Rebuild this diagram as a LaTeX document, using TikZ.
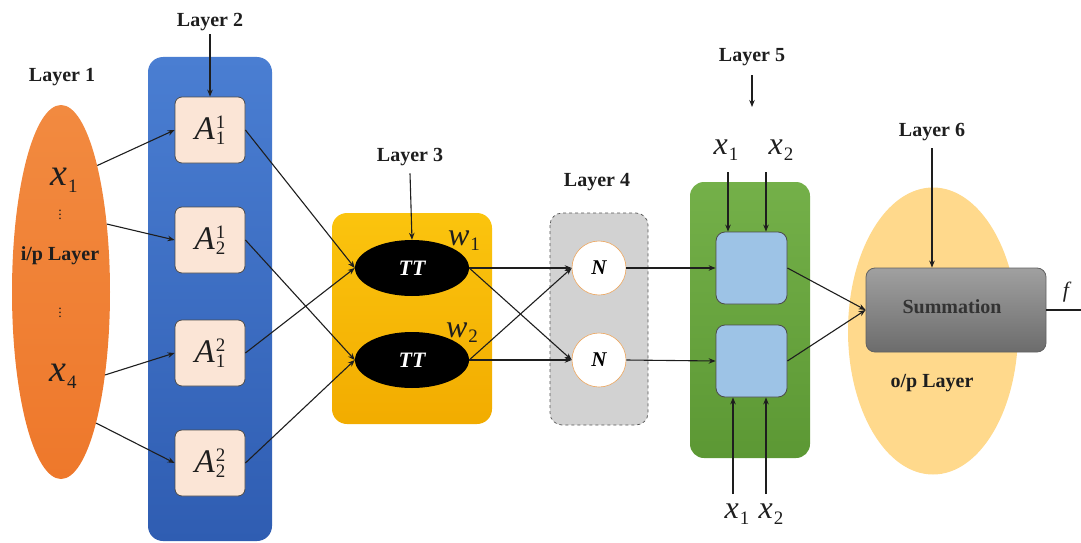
\documentclass[tikz,border=0pt]{standalone}
\usepackage{fontspec}
\setmainfont{Liberation Serif}
\usetikzlibrary{shapes.geometric,arrows.meta}

\definecolor{inorange}{HTML}{EE782B}
\definecolor{inorangeT}{HTML}{F28A40}
\definecolor{layblueT}{HTML}{4A7ED2}
\definecolor{layblueB}{HTML}{2F5DB2}
\definecolor{peach}{HTML}{FBE5D6}
\definecolor{goldT}{HTML}{FBC40E}
\definecolor{goldB}{HTML}{F2AC00}
\definecolor{normgray}{HTML}{D2D2D2}
\definecolor{greenT}{HTML}{74B049}
\definecolor{greenB}{HTML}{5C9834}
\definecolor{skyblue}{HTML}{9DC3E6}
\definecolor{outorange}{HTML}{FFD98C}
\definecolor{sumT}{HTML}{A0A0A0}
\definecolor{sumB}{HTML}{6C6C6C}
\definecolor{ink}{HTML}{1E1E1E}

% italic symbol with a stacked superscript and subscript
\newcommand\memb[3]{\textit{#1}\kern1pt\rlap{\raisebox{11pt}{\fontsize{19}{19}\selectfont #2}}\raisebox{-5pt}{\fontsize{19}{19}\selectfont #3}}
% italic symbol with a subscript
\newcommand\vsub[3]{\textit{#1}\kern1pt\raisebox{-#3}{\fontsize{19}{19}\selectfont #2}}

\begin{document}
\begin{tikzpicture}[x=1pt,y=-1pt,
  conn/.style={draw=ink, line width=1.1pt, -{Stealth[length=7pt,width=5.5pt]}},
  plain/.style={draw=ink, line width=1.1pt},
  lbl/.style={font=\bfseries\fontsize{20}{20}\selectfont, text=ink},
  bigmath/.style={font=\fontsize{32}{32}\selectfont, text=ink, inner sep=0pt},
  abox/.style={draw=ink!80, line width=0.8pt, fill=peach, rounded corners=7pt,
    minimum width=70pt, minimum height=66pt, inner sep=0pt,
    font=\fontsize{33}{33}\selectfont, text=ink},
  ttnode/.style={ellipse, fill=black, minimum width=114pt, minimum height=56pt,
    inner sep=0pt, text=white, font=\bfseries\itshape\fontsize{22}{22}\selectfont},
  nnode/.style={circle, fill=white, draw=orange!60!brown!70, line width=0.6pt,
    minimum size=54pt, inner sep=0pt, font=\bfseries\itshape\fontsize{21}{21}\selectfont},
  bbox/.style={draw=ink!80, line width=0.8pt, fill=skyblue, rounded corners=9pt,
    minimum width=71pt, minimum height=72pt, inner sep=0pt},
  vdot/.style={font=\fontsize{14}{14}\selectfont, text=ink, inner sep=0pt}
]
\useasboundingbox (0,0) rectangle (1081,543);

% ---- layer backgrounds ----
\node[ellipse, minimum width=98pt, minimum height=374pt, inner sep=0pt,
  top color=inorangeT, bottom color=inorange] (L1) at (61,292) {};
\shade[top color=layblueT, bottom color=layblueB, rounded corners=15pt]
  (148,57) rectangle (272,541);
\shade[top color=goldT, bottom color=goldB, rounded corners=15pt]
  (332,213) rectangle (492,424);
\draw[fill=normgray, draw=ink!75, dashed, line width=0.7pt, rounded corners=12pt]
  (550,213) rectangle (648,425);
\shade[top color=greenT, bottom color=greenB, rounded corners=14pt]
  (690,182) rectangle (810,458);
\node[ellipse, fill=outorange, minimum width=170pt, minimum height=287pt,
  inner sep=0pt] (L6) at (933,331) {};

% ---- layer titles ----
\node[lbl] (t1) at (62,77) {Layer 1};
\node[lbl] (t2) at (210,22) {Layer 2};
\node[lbl] (t3) at (410,157) {Layer 3};
\node[lbl] (t4) at (597,182) {Layer 4};
\node[lbl] (t5) at (752,57) {Layer 5};
\node[lbl] (t6) at (932,132) {Layer 6};

% ---- input layer contents ----
\node[bigmath, font=\fontsize{38}{38}\selectfont] (x1) at (64,180) {\vsub{x}{1}{7pt}};
\node[vdot] (d1) at (60,212) {$\vdots$};
\node[lbl] (ip) at (60,256) {i/p Layer};
\node[vdot] (d2) at (60,310) {$\vdots$};
\node[bigmath, font=\fontsize{38}{38}\selectfont] (x4) at (63,376) {\vsub{x}{4}{7pt}};

% ---- layer 2: membership nodes ----
\node[abox] (A11) at (210,130) {\memb{A}{1}{1}};
\node[abox] (A21) at (210,240) {\memb{A}{1}{2}};
\node[abox] (A12) at (210,353) {\memb{A}{2}{1}};
\node[abox] (A22) at (210,463) {\memb{A}{2}{2}};

% ---- layer 3: rule nodes ----
\node[ttnode] (T1) at (412,268) {TT};
\node[ttnode] (T2) at (412,360) {TT};
\node[bigmath] (w1) at (464,241) {\vsub{w}{1}{5pt}};
\node[bigmath] (w2) at (462,333) {\vsub{w}{2}{5pt}};

% ---- layer 4: normalisation ----
\node[nnode] (N1) at (599,268) {N};
\node[nnode] (N2) at (599,360) {N};

% ---- layer 5: consequent nodes ----
\node[bbox] (B1) at (751.5,268) {};
\node[bbox] (B2) at (751.5,361) {};
\node[bigmath] (tx1) at (726,150) {\vsub{x}{1}{6pt}};
\node[bigmath] (tx2) at (781,150) {\vsub{x}{2}{6pt}};
\node[bigmath] (bx1) at (737,514) {\vsub{x}{1}{6pt}};
\node[bigmath] (bx2) at (771,514) {\vsub{x}{2}{6pt}};
\coordinate (ta) at (728,172);
\coordinate (tb) at (766,172);
\coordinate (ba) at (733,494);
\coordinate (bb) at (766,494);

% ---- layer 6: output ----
\node[draw=ink!70, line width=0.8pt, top color=sumT, bottom color=sumB,
  rounded corners=9pt, minimum width=180pt, minimum height=84pt, inner sep=0pt]
  (S) at (956,310) {};
\node[lbl, text=black!80] (sumtxt) at (952,307) {Summation};
\node[lbl] (op) at (932,383) {o/p Layer};
\coordinate (out) at (1081,310);
\node[font=\itshape\fontsize{22}{22}\selectfont, text=ink] (f) at (1066,292) {f};

% ---- title arrows ----
\draw[conn] (t2.south) -- (A11.north);
\draw[conn] (t3.south) ++(0,4) -- (T1.north);
\coordinate (t5a) at (752,75);
\draw[conn] (t5a) -- (752,107);
\draw[conn] (t6.south) ++(0,4) -- (t6.south |- S.north);

% ---- connectors ----
\draw[conn] (L1.74) -- (A11.west);
\draw[conn] (L1.56) -- (A21.west);
\draw[conn] (L1.-62) -- (A12.west);
\draw[conn] (L1.-75) -- (A22.west);

\draw[conn] (A11.east) -- (T1.west);
\draw[conn] (A21.east) -- (T2.west);
\draw[conn] (A12.east) -- (T1.west);
\draw[conn] (A22.east) -- (T2.west);

\draw[conn] (T1.east) -- (N1.west);
\draw[conn] (T1.east) -- (N2.west);
\draw[conn] (T2.east) -- (N1.west);
\draw[conn] (T2.east) -- (N2.west);

\draw[conn] (N1.east) -- (B1.west);
\draw[conn] (N2.east) -- (B2.west);

\draw[conn] (ta) -- (ta |- B1.north);
\draw[conn] (tb) -- (tb |- B1.north);
\draw[conn] (ba) -- (ba |- B2.south);
\draw[conn] (bb) -- (bb |- B2.south);

\draw[conn] (B1.east) -- (S.west);
\draw[conn] (B2.east) -- (S.west);
\draw[plain] (S.east) -- (out);
\end{tikzpicture}
\end{document}
